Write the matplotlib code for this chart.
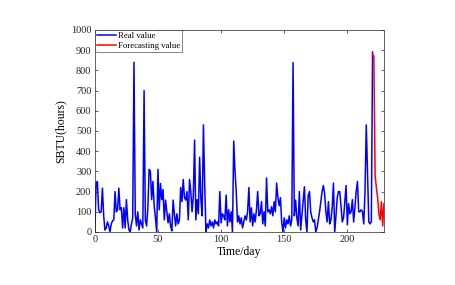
import numpy as np
import matplotlib
matplotlib.use('Agg')
import matplotlib.pyplot as plt

plt.rcParams['font.family'] = ['Liberation Serif', 'DejaVu Serif']
plt.rcParams['font.size'] = 8

# Real daily SBTU values (hours), days 0..220
real_value = [
    0, 240, 250, 110, 95, 100, 217, 80, 10, 20,
    50, 30, 0, 40, 55, 60, 200, 100, 110, 217,
    110, 120, 20, 120, 20, 160, 60, 10, 0, 40,
    70, 840, 90, 30, 100, 10, 60, 40, 20, 700,
    60, 30, 120, 310, 300, 160, 250, 130, 70, 0,
    310, 110, 240, 160, 210, 60, 158, 100, 45, 90,
    30, 5, 158, 90, 30, 90, 40, 60, 220, 150,
    260, 170, 158, 200, 60, 260, 200, 100, 180, 455,
    60, 160, 90, 370, 160, 80, 530, 240, 0, 40,
    20, 60, 30, 50, 20, 60, 40, 50, 30, 200,
    45, 90, 80, 60, 183, 30, 110, 50, 100, 0,
    450, 300, 200, 50, 80, 40, 70, 20, 50, 80,
    60, 100, 220, 50, 120, 30, 90, 50, 110, 200,
    80, 90, 150, 40, 100, 30, 267, 100, 109, 90,
    125, 80, 150, 100, 242, 170, 130, 170, 50, 0,
    70, 20, 60, 40, 80, 30, 60, 838, 80, 158,
    70, 30, 200, 10, 80, 150, 224, 60, 0, 180,
    200, 100, 70, 50, 60, 0, 20, 60, 100, 150,
    200, 230, 190, 100, 50, 150, 40, 60, 120, 242,
    0, 80, 170, 200, 200, 125, 50, 70, 150, 230,
    35, 140, 90, 100, 160, 50, 120, 200, 250, 100,
    100, 110, 100, 40, 200, 530, 300, 50, 40, 50,
    890,
]
real_days = list(range(len(real_value)))

# Forecast values, days 220..229
forecast_value = [880, 870, 280, 220, 170, 90, 60, 150, 30, 140]
forecast_days = list(range(220, 220 + len(forecast_value)))

fig = plt.figure(figsize=(4.56, 2.85), dpi=100)
ax = fig.add_axes([0.208, 0.186, 0.634, 0.709])

ax.plot(real_days, real_value, color='#0000ff', linewidth=1.1, label='Real value')
ax.plot(forecast_days, forecast_value, color='#ff0000', linewidth=1.1, label='Forecasting value')

ax.set_xlim(0, 229)
ax.set_ylim(0, 1000)
ax.set_xticks([0, 50, 100, 150, 200])
ax.set_yticks(np.arange(0, 1001, 100))
ax.tick_params(direction='in', length=2.5, width=0.5, top=True, right=True,
               labelsize=7.5, colors='#262626', pad=2.5)
for sp in ax.spines.values():
    sp.set_linewidth(0.5)
    sp.set_color('#262626')

ax.set_xlabel('Time/day', fontsize=8.5, labelpad=1)
ax.set_ylabel('SBTU(hours)', fontsize=8.5, labelpad=3)

leg = ax.legend(loc='upper left', fontsize=6.3, frameon=True, fancybox=False,
                borderpad=0.25, labelspacing=0.2, handlelength=2.2,
                handletextpad=0.2, borderaxespad=0.0)
leg.get_frame().set_edgecolor('#262626')
leg.get_frame().set_linewidth(0.5)

fig.savefig('out.png', dpi=100)
